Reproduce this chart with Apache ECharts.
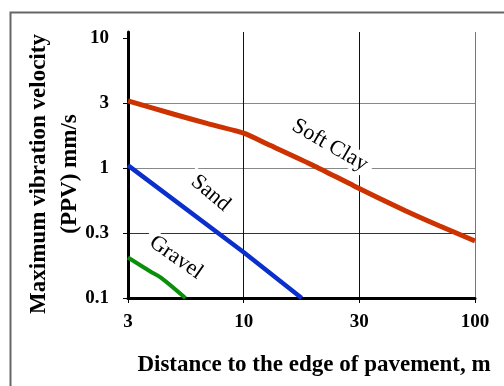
<!DOCTYPE html>
<html><head><meta charset="utf-8">
<script src="https://cdn.jsdelivr.net/npm/echarts@6/dist/echarts.min.js"></script>
<style>html,body{margin:0;padding:0;background:#fff}#c{width:504px;height:386px}</style>
</head><body><div id="c"></div>
<script>
// half-decade log scale: ticks at 10^(k/2), labelled with rounded values
const HALF = Math.sqrt(10);
const xTickValues = [HALF, 10, 10 * HALF, 100];
const xTickLabels = ['3', '10', '30', '100'];
const yTickValues = [0.1, 0.1 * HALF, 1, HALF, 10];
const yTickLabels = ['0.1', '0.3', '1', '3', '10'];

// series values [distance m, PPV mm/s]
const softClay = [[HALF, 3.3], [5, 2.6], [7, 2.2], [10, 1.86], [13, 1.5], [20, 1.05], [30, 0.73], [50, 0.47], [70, 0.36], [100, 0.275]];
const sand = [[HALF, 1.05], [10, 0.225], [17.8, 0.1]];
const gravel = [[HALF, 0.205], [3.95, 0.16], [4.4, 0.143], [5.6, 0.1]];

// curve annotations (data coordinates)
const labelNames = ['Soft Clay', 'Sand', 'Gravel'];
const labelCoords = [[23.6, 1.5], [7.2, 0.64], [5.1, 0.205]];
const labelAngles = [-30, -40, -35];

const yMax = 10 * Math.pow(HALF, 0.097);

function pick(vals, labs) {
  return function (v) {
    for (let i = 0; i < vals.length; i++) {
      if (Math.abs(Math.log(v) - Math.log(vals[i])) < 0.02) return labs[i];
    }
    return '';
  };
}

const serif = '"Liberation Serif", "Times New Roman", serif';
const chart = echarts.init(document.getElementById('c'), null, {renderer: 'canvas'});

function annot(i) {
  return {
    symbol: 'circle', symbolSize: 0, silent: true, animation: false,
    data: [{name: labelNames[i], coord: labelCoords[i]}],
    label: {
      show: true, position: 'inside', formatter: '{b}', rotate: labelAngles[i],
      fontFamily: serif, fontSize: 22, color: '#000', backgroundColor: '#fff', padding: [0, 6]
    },
    itemStyle: {color: 'transparent'}
  };
}

chart.setOption({
  animation: false,
  backgroundColor: '#fff',
  grid: {left: 128, right: 29, top: 32, bottom: 88, containLabel: false},
  xAxis: {
    type: 'log', logBase: HALF, min: HALF, max: 100, splitNumber: 3,
    axisLine: {show: true, onZero: false, lineStyle: {color: '#000', width: 3}},
    axisTick: {show: true, length: 5, lineStyle: {color: '#000', width: 1}},
    axisLabel: {formatter: pick(xTickValues, xTickLabels), fontFamily: serif, fontWeight: 'bold', fontSize: 19, color: '#000', margin: 15},
    splitLine: {show: true, lineStyle: {color: ['#000', '#111', '#111', '#777'], width: 1}}
  },
  yAxis: {
    type: 'log', logBase: HALF, min: 0.1, max: yMax, splitNumber: 4,
    axisLine: {show: true, onZero: false, lineStyle: {color: '#000', width: 3}},
    axisTick: {show: true, length: 5, lineStyle: {color: '#000', width: 1}, customValues: yTickValues},
    axisLabel: {customValues: yTickValues, formatter: pick(yTickValues, yTickLabels), fontFamily: serif, fontWeight: 'bold', fontSize: 19, color: '#000', margin: 19},
    splitLine: {show: true, showMaxLine: false, lineStyle: {color: ['#333', '#333', '#888', '#888', '#222'], width: 1}}
  },
  graphic: [
    {type: 'rect', left: 8, top: 10, z: -10, shape: {width: 600, height: 500}, style: {fill: 'none', stroke: '#666', lineWidth: 2}},
    {type: 'text', x: 55, y: 174, rotation: Math.PI / 2, style: {text: 'Maximum vibration velocity\n(PPV) mm/s', align: 'center', verticalAlign: 'middle', font: 'bold 23px ' + serif, lineHeight: 31, fill: '#000'}},
    {type: 'text', x: 314, y: 365, style: {text: 'Distance to the edge of pavement, m', align: 'center', verticalAlign: 'middle', font: 'bold 23px ' + serif, fill: '#000'}}
  ],
  series: [
    {name: 'Soft Clay', type: 'line', data: softClay, showSymbol: false, smooth: 0.2, lineStyle: {color: '#CC3300', width: 5}, itemStyle: {color: '#CC3300'}, markPoint: annot(0), z: 3},
    {name: 'Sand', type: 'line', data: sand, showSymbol: false, lineStyle: {color: '#0a2fcc', width: 4.5}, itemStyle: {color: '#0a2fcc'}, markPoint: annot(1), z: 3},
    {name: 'Gravel', type: 'line', data: gravel, showSymbol: false, smooth: 0.3, lineStyle: {color: '#0a8f0a', width: 4}, itemStyle: {color: '#0a8f0a'}, markPoint: annot(2), z: 3}
  ]
});
</script>
</body></html>
